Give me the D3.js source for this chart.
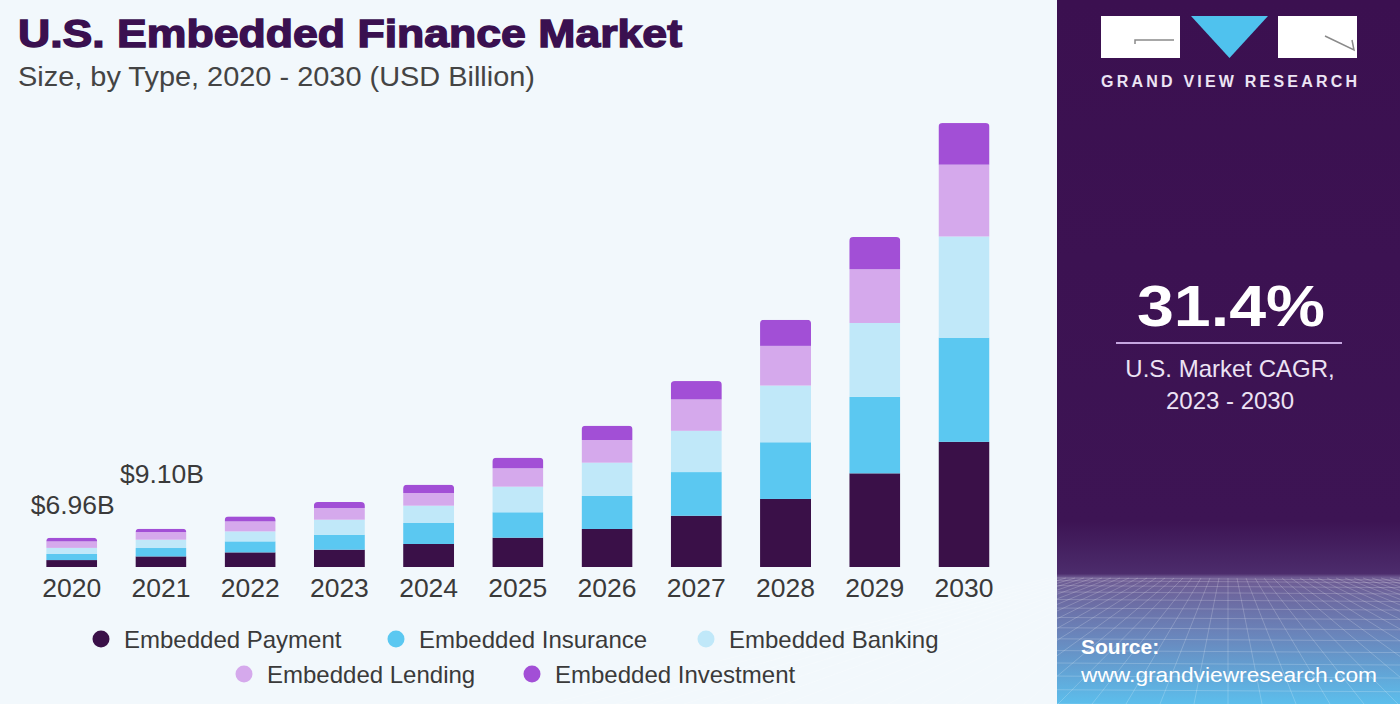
<!DOCTYPE html>
<html lang="en">
  <head>
    <meta charset="utf-8">
    <title>U.S. Embedded Finance Market</title>
    <style type="text/css">
    body { margin: 0; background: #f2f8fc; }
    /* 横軸の年ラベル */
    .year { font-family: "Liberation Sans", Arial, sans-serif; font-size: 26.5px; fill: #3a3a3a; }
    .legend text { font-family: "Liberation Sans Narrow", "Arial Narrow", "Liberation Sans", sans-serif; font-size: 24px; fill: #3a3a3a; }
    </style>
  </head>
  <body>
    <script src="https://d3js.org/d3.v7.min.js"></script>
    <div id="chart"></div>
    <script type="text/javascript">

    var width = 1400,
        height = 704;

    // data
    var years = ["2020","2021","2022","2023","2024","2025","2026","2027","2028","2029","2030"];
    var payment    = [1.65, 2.52, 3.48, 4.12, 5.48, 6.98, 9.05, 12.2, 16.2, 22.3, 29.8];
    var insurance  = [1.45, 2.00, 2.62, 3.57, 5.00, 6.05, 7.86, 10.4, 13.5, 18.2, 24.8];
    var banking    = [1.45, 1.98, 2.38, 3.57, 4.12, 6.10, 7.93, 9.83, 13.5, 17.6, 24.1];
    var lending    = [1.55, 1.83, 2.38, 2.79, 3.02, 4.38, 5.40, 7.48, 9.45, 12.8, 17.1];
    var investment = [0.86, 0.77, 1.19, 1.43, 1.98, 2.52, 3.40, 4.36, 6.19, 7.69, 9.9];
    var seriesNames = ["Embedded Payment","Embedded Insurance","Embedded Banking","Embedded Lending","Embedded Investment"];
    var seriesColors = ["#3a1048","#5bc8f1","#c0e8f9","#d5a9ec","#a24fd6"];
    var labelYears = ["2020", "2021"];
    var labelTexts = ["$6.96B", "$9.10B"];

    // ラベルの棒上からの距離（2021 は高めに置かれている）
    var labelGap = [24, 46];

    var svg = d3.select("#chart").append("svg")
        .attr("width", width)
        .attr("height", height);

    var defs = svg.append("defs");

    // 背景
    svg.append("rect").attr("width", width).attr("height", height).attr("fill", "#f2f8fc");

    // 右パネル
    var grad = defs.append("linearGradient").attr("id", "panelGrad")
        .attr("x1", 0).attr("y1", 0).attr("x2", 0).attr("y2", 1);
    grad.append("stop").attr("offset", "0").attr("stop-color", "#3b1050");
    grad.append("stop").attr("offset", "0.74").attr("stop-color", "#3d1454");
    grad.append("stop").attr("offset", "0.815").attr("stop-color", "#4c2c6c");
    grad.append("stop").attr("offset", "0.82").attr("stop-color", "#6e5a92");
    grad.append("stop").attr("offset", "0.9").attr("stop-color", "#6a84ba");
    grad.append("stop").attr("offset", "1").attr("stop-color", "#5cbeec");

    var panel = svg.append("g").attr("transform", "translate(1057,0)");
    panel.append("rect").attr("width", 343).attr("height", height).attr("fill", "url(#panelGrad)");

    // 床のグリッド（装飾）
    var grid = panel.append("g").attr("stroke", "#ffffff").attr("stroke-opacity", 0.2).attr("stroke-width", 1);
    d3.range(0, 14).forEach(function(i) {
      var y = 578 + Math.pow(i / 13, 1.5) * 126;
      grid.append("line").attr("x1", 0).attr("x2", 343).attr("y1", y).attr("y2", y + 2);
    });
    d3.range(-20, 21).forEach(function(i) {
      grid.append("line")
        .attr("x1", 171 + i * 9).attr("y1", 578)
        .attr("x2", 171 + i * 34).attr("y2", 704);
    });

    // ロゴ
    var logo = panel.append("g");
    logo.append("rect").attr("x", 44).attr("y", 16).attr("width", 79).attr("height", 42).attr("fill", "#ffffff");
    logo.append("rect").attr("x", 221).attr("y", 16).attr("width", 79).attr("height", 42).attr("fill", "#ffffff");
    logo.append("path").attr("d", "M134,16 L211,16 L172.5,58 Z").attr("fill", "#4fc2ee");
    logo.append("path").attr("d", "M78,44 L78,40 L117,40").attr("fill", "none").attr("stroke", "#8a8a8a").attr("stroke-width", 1.5);
    logo.append("path").attr("d", "M268,36 L297,50 L295,40").attr("fill", "none").attr("stroke", "#8a8a8a").attr("stroke-width", 1.5);
    logo.append("text").attr("x", 44).attr("y", 87)
      .attr("font-family", "Liberation Sans, Arial, sans-serif").attr("font-weight", "bold")
      .attr("font-size", 16).attr("fill", "#ece4f4")
      .attr("textLength", 256).attr("lengthAdjust", "spacing")
      .text("GRAND VIEW RESEARCH");

    // CAGR
    panel.append("text").attr("x", 80).attr("y", 326)
      .attr("font-family", "Liberation Sans, Arial, sans-serif").attr("font-weight", "bold")
      .attr("font-size", 57).attr("fill", "#ffffff")
      .attr("textLength", 188).attr("lengthAdjust", "spacingAndGlyphs")
      .text("31.4%");
    panel.append("line").attr("x1", 59).attr("x2", 285).attr("y1", 343).attr("y2", 343)
      .attr("stroke", "#c5a6e0").attr("stroke-width", 2);
    panel.append("text").attr("x", 173).attr("y", 377).attr("text-anchor", "middle")
      .attr("font-family", "Liberation Sans Narrow, Arial Narrow, Liberation Sans, sans-serif")
      .attr("font-size", 24).attr("fill", "#ece2f4").text("U.S. Market CAGR,");
    panel.append("text").attr("x", 173).attr("y", 409).attr("text-anchor", "middle")
      .attr("font-family", "Liberation Sans Narrow, Arial Narrow, Liberation Sans, sans-serif")
      .attr("font-size", 24).attr("fill", "#ece2f4").text("2023 - 2030");

    // 出典
    panel.append("text").attr("x", 24).attr("y", 654)
      .attr("font-family", "Liberation Sans, Arial, sans-serif").attr("font-weight", "bold")
      .attr("font-size", 21).attr("fill", "#ffffff").text("Source:");
    panel.append("text").attr("x", 24).attr("y", 682)
      .attr("font-family", "Liberation Sans, Arial, sans-serif")
      .attr("font-size", 21).attr("fill", "#ffffff")
      .attr("textLength", 296).attr("lengthAdjust", "spacingAndGlyphs")
      .text("www.grandviewresearch.com");

    // タイトル
    svg.append("text").attr("x", 18).attr("y", 47)
      .attr("font-family", "Liberation Sans, Arial, sans-serif").attr("font-weight", "bold")
      .attr("font-size", 39).attr("fill", "#3a1050")
      .attr("stroke", "#3a1050").attr("stroke-width", 1.4)
      .attr("textLength", 664).attr("lengthAdjust", "spacingAndGlyphs")
      .text("U.S. Embedded Finance Market");
    svg.append("text").attr("x", 18).attr("y", 86)
      .attr("font-family", "Liberation Sans Narrow, Arial Narrow, Liberation Sans, sans-serif")
      .attr("font-size", 27).attr("fill", "#444444")
      .attr("textLength", 517).attr("lengthAdjust", "spacingAndGlyphs")
      .text("Size, by Type, 2020 - 2030 (USD Billion)");

    // スケール
    var x = d3.scalePoint().domain(years).range([71.7, 964]);
    var y = d3.scaleLinear().domain([0, 110]).range([567, 105]);
    var barWidth = 51;

    var table = years.map(function(yr, i) {
      return { year: yr, payment: payment[i], insurance: insurance[i], banking: banking[i], lending: lending[i], investment: investment[i] };
    });
    var keys = ["payment","insurance","banking","lending","investment"];
    var stacked = d3.stack().keys(keys)(table);

    function total(i) {
      return payment[i] + insurance[i] + banking[i] + lending[i] + investment[i];
    }

    // 棒の上角を丸めるクリップ
    table.forEach(function(d, i) {
      defs.append("clipPath").attr("id", "clip-" + d.year)
        .append("rect")
        .attr("x", x(d.year) - barWidth / 2)
        .attr("y", y(total(i)))
        .attr("width", barWidth)
        .attr("height", y(0) - y(total(i)) + 10)
        .attr("rx", 4);
    });

    var layers = svg.append("g").selectAll("g")
      .data(stacked)
      .enter().append("g")
      .attr("fill", function(d, i) { return seriesColors[i]; });

    layers.selectAll("rect")
      .data(function(d) { return d; })
      .enter().append("rect")
      .attr("clip-path", function(d) { return "url(#clip-" + d.data.year + ")"; })
      .attr("x", function(d) { return x(d.data.year) - barWidth / 2; })
      .attr("y", function(d) { return y(d[1]); })
      .attr("width", barWidth)
      .attr("height", function(d) { return y(d[0]) - y(d[1]); });

    // 年ラベル
    svg.append("g").selectAll("text")
      .data(years)
      .enter().append("text")
      .attr("class", "year")
      .attr("x", function(d) { return x(d); })
      .attr("y", 597)
      .attr("text-anchor", "middle")
      .text(function(d) { return d; });

    // 合計値ラベル
    svg.append("g").selectAll("text")
      .data(labelYears)
      .enter().append("text")
      .attr("class", "year")
      .attr("x", function(d) { return x(d) + 1; })
      .attr("y", function(d, i) { return y(total(years.indexOf(d))) - labelGap[i]; })
      .attr("text-anchor", "middle")
      .text(function(d, i) { return labelTexts[i]; });

    // 凡例
    var legendPos = [[101, 639], [396, 639], [706, 639], [244, 674], [532, 674]];
    var legend = svg.append("g").attr("class", "legend").selectAll("g")
      .data(seriesNames)
      .enter().append("g")
      .attr("transform", function(d, i) { return "translate(" + legendPos[i][0] + "," + legendPos[i][1] + ")"; });
    legend.append("circle").attr("r", 8.5).attr("fill", function(d, i) { return seriesColors[i]; });
    legend.append("text").attr("x", 23).attr("y", 8.5).text(function(d) { return d; });

    </script>
  </body>
</html>
